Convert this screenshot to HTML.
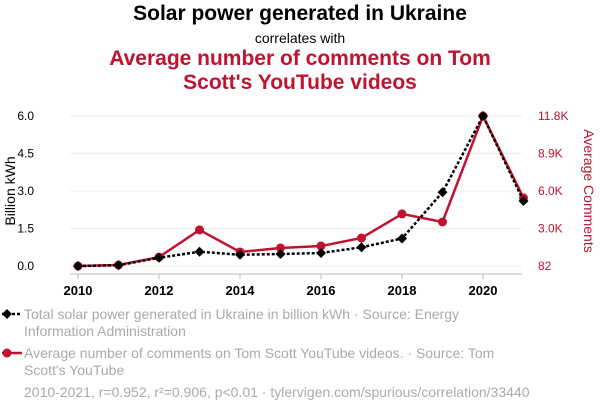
<!DOCTYPE html>
<html><head><meta charset="utf-8"><style>
body{margin:0;background:#fff;font-family:"Liberation Sans",sans-serif;}
#wrap{position:relative;width:600px;height:414px;overflow:hidden;}
.t{position:absolute;left:0;width:600px;text-align:center;}
.leg{position:absolute;left:24px;color:#aaa;font-size:14px;line-height:17px;width:470px;}
</style></head><body>
<div id="wrap">
<div class="t" style="top:2px;font-size:21px;font-weight:bold;color:#000;">Solar power generated in Ukraine</div>
<div class="t" style="top:30px;font-size:14px;color:#000;">correlates with</div>
<div class="t" style="top:47px;font-size:21px;font-weight:bold;color:#c1122f;line-height:24px;">Average number of comments on Tom<br>Scott's YouTube videos</div>
<svg id="svg" width="600" height="414" style="position:absolute;left:0;top:0;"></svg>
<div class="leg" style="top:306px;">Total solar power generated in Ukraine in billion kWh · Source: Energy Information Administration</div>
<div class="leg" style="top:345px;width:490px;">Average number of comments on Tom Scott YouTube videos. · Source: Tom Scott's YouTube</div>
<div class="leg" style="top:384px;left:24px;width:570px;">2010-2021, r=0.952, r²=0.906, p&lt;0.01 · tylervigen.com/spurious/correlation/33440</div>
</div>
<script>
const years=[2010,2011,2012,2013,2014,2015,2016,2017,2018,2019,2020,2021];
const solar=[0.0,0.03,0.33,0.57,0.45,0.48,0.52,0.75,1.1,2.95,6.0,2.6];
const comments=[82,160,780,2900,1180,1490,1640,2270,4150,3520,11800,5400];
const leftTicks=[0,1.5,3.0,4.5,6.0];
const leftLabels=["0.0","1.5","3.0","4.5","6.0"];
const rightTicks=[82,3012,5942,8872,11802];
const rightLabels=["82","3.0K","6.0K","8.9K","11.8K"];
const xTicks=[2010,2012,2014,2016,2018,2020];
const NS="http://www.w3.org/2000/svg";
const svg=document.getElementById('svg');
const x=v=>78+(v-2010)*40.5;
const yl=v=>266-v*25;
const yr=v=>266-(v-82)*150/11720;
function el(t,a){const e=document.createElementNS(NS,t);for(const k in a)e.setAttribute(k,a[k]);svg.appendChild(e);return e;}
leftTicks.forEach((v,i)=>{
 const g=el('line',{x1:70,x2:522,y1:yl(v),y2:yl(v),stroke:'#eee','stroke-width':1});
 
 
 const t=el('text',{x:34,y:yl(v)+4,'text-anchor':'end','font-size':12,fill:'#000'});t.textContent=leftLabels[i];
 
 
});
rightTicks.forEach((v,i)=>{
 const t=el('text',{x:538,y:yr(v)+4,'font-size':12,fill:'#c1122f'});t.textContent=rightLabels[i];
 
 
});
const ax=el('line',{x1:70,x2:522,y1:274,y2:274,stroke:'#bbb','stroke-width':1});


xTicks.forEach(v=>{
 const tk=el('line',{x1:x(v),x2:x(v),y1:274,y2:279,stroke:'#bbb'});
 
 
 const t=el('text',{x:x(v),y:295,'text-anchor':'middle','font-size':13,'font-weight':'bold',fill:'#000'});t.textContent=v;
 
 
});
const yt=el('text',{x:0,y:0,transform:'translate(15,191) rotate(-90)','text-anchor':'middle','font-size':14,fill:'#000'});yt.textContent='Billion kWh';


const yt2=el('text',{x:0,y:0,transform:'translate(584,191) rotate(90)','text-anchor':'middle','font-size':14,fill:'#c1122f'});yt2.textContent='Average Comments';


const rp=el('polyline',{points:years.map((v,i)=>x(v)+','+yr(comments[i])).join(' '),fill:'none',stroke:'#c1122f','stroke-width':2.5});


years.forEach((v,i)=>{const c=el('circle',{cx:x(v),cy:yr(comments[i]),r:4.5,fill:'#c1122f'});
 
 });
const bp=el('polyline',{points:years.map((v,i)=>x(v)+','+yl(solar[i])).join(' '),fill:'none',stroke:'#000','stroke-width':2.5,'stroke-dasharray':'3,2'});


years.forEach((v,i)=>{const cx=x(v),cy=yl(solar[i]);const d=el('polygon',{points:`${cx},${cy-5} ${cx+5},${cy} ${cx},${cy+5} ${cx-5},${cy}`,fill:'#000'});
 
 });
const l1=el('line',{x1:2,x2:22,y1:314,y2:314,stroke:'#000','stroke-width':2.5,'stroke-dasharray':'3,2'});


const l1d=el('polygon',{points:'7,309 12,314 7,319 2,314',fill:'#000'});


const l2=el('line',{x1:2,x2:22,y1:353,y2:353,stroke:'#c1122f','stroke-width':2.5});


const l2c=el('circle',{cx:7,cy:353,r:4.5,fill:'#c1122f'});


</script>
</body></html>
